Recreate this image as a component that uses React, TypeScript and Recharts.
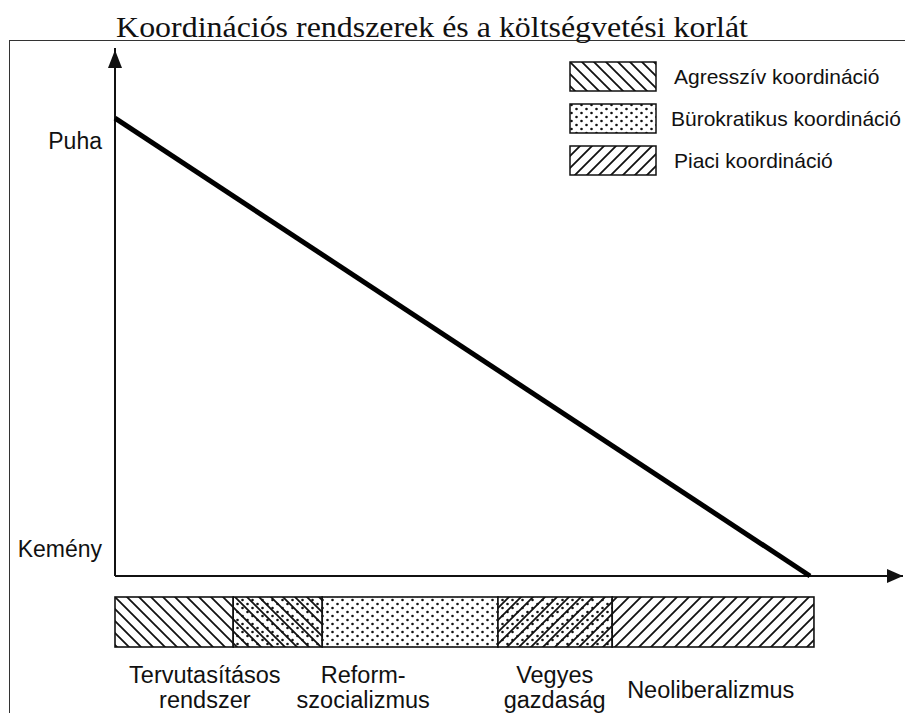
import React from 'react'
import { ComposedChart, Line, XAxis, YAxis, ReferenceLine, ReferenceDot, Legend, BarChart, Bar } from 'recharts'

const TITLE = 'Koordinációs rendszerek és a költségvetési korlát'

// budget constraint, from soft (Puha) to hard (Kemény)
const constraintX = [0, 88.2]
const constraintY = [100, 0]
const Y_MAX = 115.3
const yTickValues = [95, 6]
const yTickLabels = ['Puha', 'Kemény']

const legendKeys = ['agg', 'bur', 'piac']
const legendLabels = ['Agresszív koordináció', 'Bürokratikus koordináció', 'Piaci koordináció']

// coordination band below the axis
const segmentKeys = ['agg', 'aggBur', 'bur', 'burPiac', 'piac']
const segmentWidths = [15.0, 11.3, 22.3, 14.5, 25.6]

const regimeTicks = [11.4, 31.5, 55.8, 75.6]
const regimeLabels = [
  ['Tervutasításos', 'rendszer'],
  ['Reform-', 'szocializmus'],
  ['Vegyes', 'gazdaság'],
  ['Neoliberalizmus'],
]

const PATTERNS: Record<string, string[]> = {
  agg: ['hatchBack'],
  aggBur: ['dots', 'hatchBack'],
  bur: ['dots'],
  burPiac: ['dots', 'hatchFwd'],
  piac: ['hatchFwd'],
}

const INK = '#111'
const SANS = '"Liberation Sans", Arial, sans-serif'

const lineData = constraintX.map((x, i) => ({ x, y: constraintY[i] }))
const bandData = [
  segmentKeys.reduce((row: any, key, i) => ({ ...row, [key]: segmentWidths[i] }), { name: 'koordináció' }),
]

function PatternDefs() {
  return (
    <svg width={0} height={0} style={{ position: 'absolute' }}>
      <defs>
        <pattern id="hatchBack" patternUnits="userSpaceOnUse" width={12} height={12}>
          <path d="M-1,-1 L13,13 M-1,11 L1,13 M11,-1 L13,1" stroke={INK} strokeWidth={1.8} />
        </pattern>
        <pattern id="hatchFwd" patternUnits="userSpaceOnUse" width={12} height={12}>
          <path d="M-1,13 L13,-1 M-1,1 L1,-1 M11,13 L13,11" stroke={INK} strokeWidth={1.8} />
        </pattern>
        <pattern id="dots" patternUnits="userSpaceOnUse" width={10} height={8}>
          <circle cx={2.5} cy={2} r={1.3} fill={INK} />
          <circle cx={7.5} cy={6} r={1.3} fill={INK} />
        </pattern>
      </defs>
    </svg>
  )
}

function PatternRect({ x, y, width, height, keyName, strokeWidth }: any) {
  return (
    <g>
      <rect x={x} y={y} width={width} height={height} fill="#fff" />
      {PATTERNS[keyName].map((p) => (
        <rect key={p} x={x} y={y} width={width} height={height} fill={`url(#${p})`} />
      ))}
      <rect x={x} y={y} width={width} height={height} fill="none" stroke={INK} strokeWidth={strokeWidth} />
    </g>
  )
}

const renderLegend = () => (
  <div style={{ fontFamily: SANS, fontSize: 21, color: INK }}>
    {legendKeys.map((key, i) => (
      <div key={key} style={{ display: 'flex', alignItems: 'center', height: 42 }}>
        <svg width={90} height={32}>
          <PatternRect x={1} y={1} width={86} height={29} keyName={key} strokeWidth={1.5} />
        </svg>
        <span style={{ marginLeft: i === 1 ? 12 : 15, whiteSpace: 'nowrap' }}>{legendLabels[i]}</span>
      </div>
    ))}
  </div>
)

const upArrow = ({ cx, cy }: any) => (
  <path d={`M${cx},${cy + 2} L${cx - 7},${cy + 20} L${cx + 7},${cy + 20} Z`} fill={INK} />
)
const rightArrow = ({ cx, cy }: any) => (
  <path d={`M${cx},${cy} L${cx - 16},${cy - 7} L${cx - 16},${cy + 7} Z`} fill={INK} />
)

const RegimeTick = ({ x, y, index }: any) => {
  const lines = regimeLabels[index] || []
  return (
    <g>
      {lines.map((line, j) => (
        <text
          key={j}
          x={x}
          y={lines.length === 1 ? y + 51 : y + 36 + j * 25}
          textAnchor="middle"
          fontFamily={SANS}
          fontSize={23.5}
          fill={INK}
        >
          {line}
        </text>
      ))}
    </g>
  )
}

export default function App() {
  return (
    <div style={{ position: 'fixed', left: 0, top: 0, width: 905, height: 713, overflow: 'hidden', background: '#fff' }}>
      <PatternDefs />
      <div
        style={{
          position: 'absolute',
          left: 9,
          top: 40,
          width: 1200,
          height: 1200,
          borderLeft: '1.5px solid #333',
          borderTop: '1.5px solid #333',
        }}
      />
      <svg width={905} height={48} style={{ position: 'absolute', left: 0, top: 0 }}>
        <text
          transform="translate(432,37) scale(1.12,1)"
          textAnchor="middle"
          fontFamily='"Liberation Serif", "Times New Roman", serif'
          fontSize={28.5}
          fill={INK}
        >
          {TITLE}
        </text>
      </svg>

      <div style={{ position: 'absolute', left: 0, top: 0 }}>
        <ComposedChart width={905} height={590} data={lineData} margin={{ top: 48, right: 2, bottom: 14, left: 0 }}>
          <XAxis dataKey="x" type="number" domain={[0, 100]} hide />
          <YAxis
            type="number"
            domain={[0, Y_MAX]}
            ticks={yTickValues}
            interval={0}
            width={115}
            axisLine={false}
            tickLine={false}
            tickMargin={7}
            tickFormatter={(v: number) => yTickLabels[yTickValues.indexOf(v)]}
            tick={{ fontFamily: SANS, fontSize: 23, fill: INK }}
          />
          <ReferenceLine y={0} stroke={INK} strokeWidth={2} />
          <ReferenceLine x={0} stroke={INK} strokeWidth={2} />
          <ReferenceDot x={0} y={Y_MAX} ifOverflow="visible" shape={upArrow} />
          <ReferenceDot x={100} y={0} ifOverflow="visible" shape={rightArrow} />
          <Line dataKey="y" type="linear" stroke="#000" strokeWidth={5} dot={false} isAnimationActive={false} />
          <Legend
            layout="vertical"
            align="center"
            verticalAlign="middle"
            content={renderLegend}
            wrapperStyle={{ position: 'absolute', left: 569, top: 56, width: 336 }}
          />
        </ComposedChart>
      </div>

      <div style={{ position: 'absolute', left: 0, top: 590 }}>
        <BarChart
          width={905}
          height={123}
          data={bandData}
          layout="vertical"
          barCategoryGap={0}
          margin={{ top: 7, right: 2, bottom: 0, left: 115 }}
        >
          <XAxis
            type="number"
            domain={[0, 100]}
            ticks={regimeTicks}
            interval={0}
            axisLine={false}
            tickLine={false}
            tickSize={0}
            tickMargin={0}
            height={66}
            tick={<RegimeTick />}
          />
          <YAxis type="category" dataKey="name" hide />
          {segmentKeys.map((key) => (
            <Bar
              key={key}
              dataKey={key}
              stackId="band"
              isAnimationActive={false}
              shape={(props: any) => <PatternRect {...props} keyName={key} strokeWidth={1.6} />}
            />
          ))}
        </BarChart>
      </div>
    </div>
  )
}
